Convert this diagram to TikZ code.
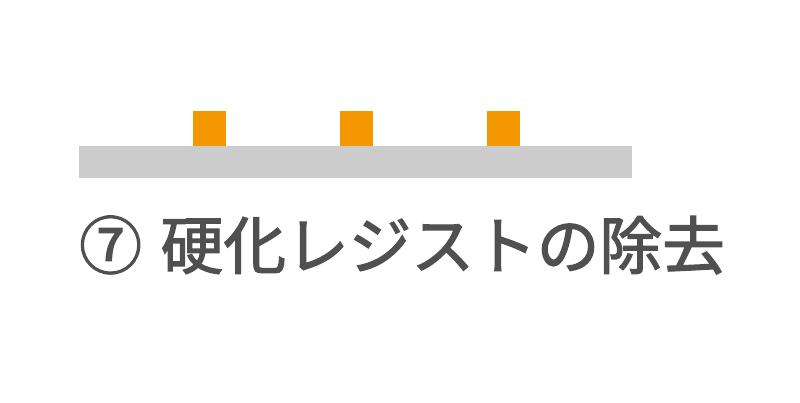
\documentclass[tikz,border=0pt]{standalone}
\usepackage{fontspec}
\newfontfamily\cjk[FakeBold=2]{Noto Sans CJK JP}
\definecolor{plate}{HTML}{CCCCCC}
\definecolor{resist}{HTML}{F39800}
\definecolor{txt}{HTML}{505050}
\def\sq{32.5}

\begin{document}
\begin{tikzpicture}[x=0.03cm,y=-0.03cm,
    base/.style={fill=plate,draw=none},
    pad/.style={fill=resist,draw=none},
    title/.style={font=\cjk\fontsize{53.5}{60}\selectfont,text=txt,inner sep=0pt}]
    \useasboundingbox (0,0) rectangle (800,403);
    \fill[base] (79,146) rectangle (632,178);
    \foreach \x in {193,340,487}
      \fill[pad] (\x,111) rectangle +(\sq,35);
    \node[title,anchor=west] (T) at (79,245) {⑦\hspace{0.3em}硬化レジストの除去};
  \end{tikzpicture}
\end{document}
